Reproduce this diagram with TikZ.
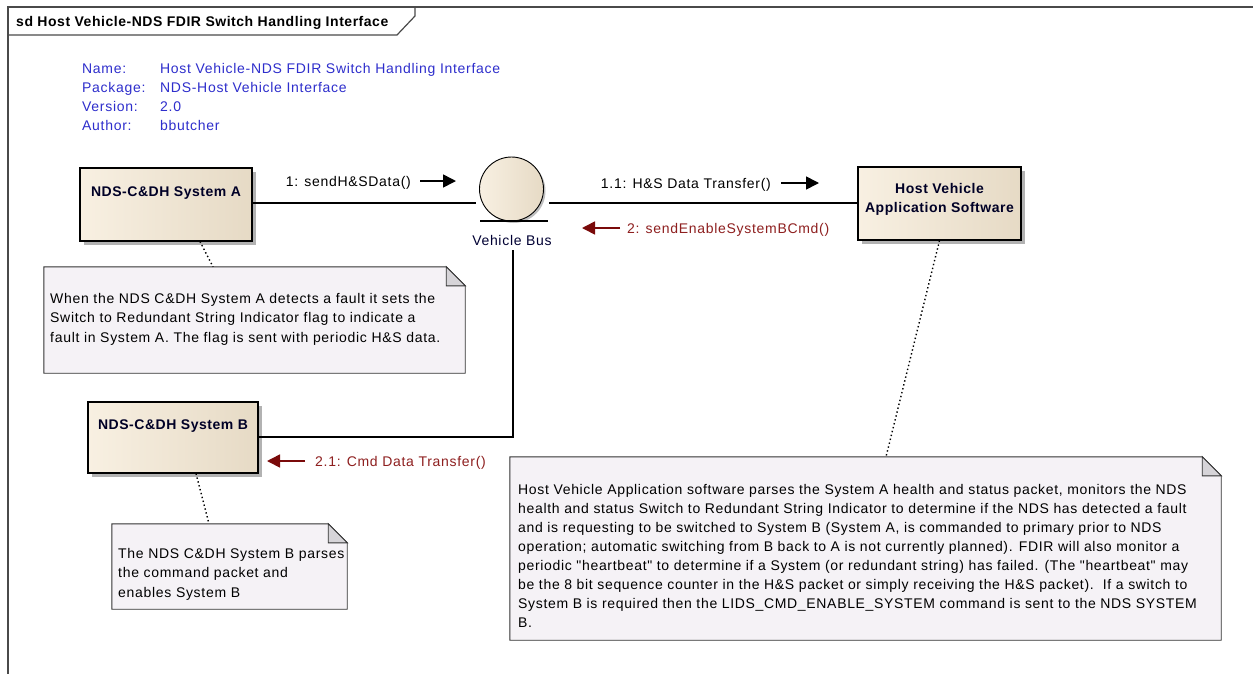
\documentclass[tikz,border=0pt]{standalone}
\usepackage{fontspec}
\setmainfont{Liberation Sans}
\newfontfamily\eafont[LetterSpace=5]{Liberation Sans}
\newfontfamily\eanote[LetterSpace=4.8]{Liberation Sans}
\newfontfamily\eabold[LetterSpace=3.8]{Liberation Sans}
\usetikzlibrary{shadows,arrows.meta}
\definecolor{framec}{HTML}{4A4A4A}
\definecolor{objl}{HTML}{F8F0E2}
\definecolor{objr}{HTML}{E6DAC5}
\definecolor{notefill}{HTML}{F5F2F6}
\definecolor{foldfill}{HTML}{D6D4D8}
\definecolor{metablue}{HTML}{2E2ECC}
\definecolor{msgred}{HTML}{8E1F1F}
\definecolor{arrred}{HTML}{7A0A0A}
\tikzset{
  objbox/.style={rectangle, draw=black, line width=1.1pt, left color=objl, right color=objr,
    inner sep=0, general shadow={fill=black!30, shadow xshift=4pt, shadow yshift=-4pt}},
  objtxt/.style={font=\eabold\fontsize{14}{19}\selectfont\bfseries, text=black!85!blue, align=center, inner sep=0, anchor=base},
  notebox/.style={rectangle, draw=none, inner sep=0},
  noteline/.style={draw=black!80, line width=0.9pt, fill=notefill},
  notetxt/.style={font=\eafont\fontsize{14}{19.5}\selectfont, align=left, anchor=north west, inner sep=0},
  meta/.style={font=\eafont\fontsize{14}{19}\selectfont, text=metablue, anchor=base west, inner sep=0},
  msg/.style={font=\eafont\fontsize{14}{16}\selectfont, inner sep=0},
  conn/.style={draw=black, line width=1.1pt},
  anchorline/.style={draw=black, line width=1.4pt, dash pattern=on 1.4pt off 2.6pt},
  marrow/.style={line width=1.6pt, -{Triangle[length=13pt,width=13pt]}},
}
\begin{document}
\begin{tikzpicture}[x=1pt,y=-1pt]
\useasboundingbox (0,0) rectangle (1253,673);
\fill[white] (0,0) rectangle (1253,673);
% frame
\draw[framec, line width=1.8pt] (8,690) -- (8,7) -- (1270,7);
\draw[framec, line width=1.2pt] (8,35) -- (397,35) -- (415,16) -- (415,7);
\node[font=\eabold\fontsize{14}{16}\selectfont\bfseries, anchor=base west, inner sep=0] (title) at (16,26) {sd Host Vehicle-NDS FDIR Switch Handling Interface};
% metadata
\node[meta] (mk1) at (82,73) {Name:};
\node[meta] (mk2) at (82,92) {Package:};
\node[meta] (mk3) at (82,111) {Version:};
\node[meta] (mk4) at (82,130) {Author:};
\node[meta] (mv1) at (160,73) {Host Vehicle-NDS FDIR Switch Handling Interface};
\node[meta] (mv2) at (160,92) {NDS-Host Vehicle Interface};
\node[meta] (mv3) at (160,111) {2.0};
\node[meta] (mv4) at (160,130) {bbutcher};
% objects
\node[objbox, minimum width=172pt, minimum height=73pt] (sysA) at (166,204.5) {};
\node[objtxt] (sysAt) at (166,196) {NDS-C\&DH System A};
\node[objbox, minimum width=163pt, minimum height=73pt] (host) at (939.5,203.5) {};
\node[objtxt, anchor=north] (hostt) at (939.5,183) {Host Vehicle\\Application Software};
\node[objbox, minimum width=170pt, minimum height=71pt] (sysB) at (173,437.5) {};
\node[objtxt] (sysBt) at (173,429) {NDS-C\&DH System B};
% vehicle bus
\node[circle, draw=black, line width=0.9pt, minimum size=64pt, inner sep=0, left color=objl, right color=objr,
  general shadow={fill=black!25, shadow xshift=2pt, shadow yshift=-2pt}] (bus) at (511.5,189) {};
\draw[line width=1.1pt] (480,221) -- (548,221);
\node[font=\eafont\fontsize{14}{16}\selectfont, text=black!80!blue, inner sep=0, anchor=base] (busl) at (512,245) {Vehicle Bus};
\coordinate (busL) at (476,203);
\coordinate (busR) at (549,203);
\coordinate (busD) at (513,250);
\coordinate (busC) at (513,437);
% connectors
\draw[conn] (sysA.east |- busL) -- (busL);
\draw[conn] (busR) -- (host.west |- busR);
\draw[conn] (busD) -- (busC) -- (sysB.east |- busC);
% notes
\node[notebox, minimum width=421pt, minimum height=106pt] (noteA) at (254.5,320) {};
\node[notebox, minimum width=235pt, minimum height=85pt] (noteB) at (229.5,566.5) {};
\node[notebox, minimum width=711pt, minimum height=183pt] (noteC) at (865.5,548.5) {};
\foreach \n/\f in {noteA/19, noteB/19, noteC/19}{
  \draw[noteline] (\n.north west) -- ([xshift=-\f pt]\n.north east) -- ([yshift=-\f pt]\n.north east) -- (\n.south east) -- (\n.south west) -- cycle;
  \draw[draw=black!80, line width=0.9pt, fill=foldfill] ([xshift=-\f pt]\n.north east) -- ([xshift=-\f pt, yshift=-\f pt]\n.north east) -- ([yshift=-\f pt]\n.north east) -- cycle;
}
\node[notetxt] (noteAt) at (50,293) {When the NDS C\&DH System A detects a fault it sets the\\Switch to Redundant String Indicator flag to indicate a\\fault in System A. The flag is sent with periodic H\&S data.};
\node[notetxt] (noteBt) at (118,548) {The NDS C\&DH System B parses\\the command packet and\\enables System B};
\node[notetxt, font=\eanote\fontsize{14}{19}\selectfont] (noteCt) at (518,484) {Host Vehicle Application software parses the System A health and status packet, monitors the NDS\\health and status Switch to Redundant String Indicator to determine if the NDS has detected a fault\\and is requesting to be switched to System B (System A, is commanded to primary prior to NDS\\operation; automatic switching from B back to A is not currently planned). FDIR will also monitor a\\periodic "heartbeat" to determine if a System (or redundant string) has failed. (The "heartbeat" may\\be the 8 bit sequence counter in the H\&S packet or simply receiving the H\&S packet).\ \ If a switch to\\System B is required then the LIDS\_CMD\_ENABLE\_SYSTEM command is sent to the NDS SYSTEM\\B.};
% note anchors
\draw[anchorline] ([xshift=34pt]sysA.south) -- ([xshift=-41.5pt]noteA.north);
\draw[anchorline] ([xshift=23pt]sysB.south) -- ([xshift=-20.5pt]noteB.north);
\draw[anchorline] (host.south) -- ([xshift=20.5pt]noteC.north);
% messages
\node[msg, anchor=base east] (m1) at (411,186) {1: sendH\&SData()};
\coordinate (m1a) at (420,181);
\coordinate (m1b) at (456,181);
\draw[marrow] (m1a) -- (m1b);
\node[msg, anchor=base east] (m11) at (771,188) {1.1: H\&S Data Transfer()};
\coordinate (m11a) at (781,183);
\coordinate (m11b) at (819,183);
\draw[marrow] (m11a) -- (m11b);
\node[msg, anchor=base west, text=msgred] (m2) at (627,233) {2: sendEnableSystemBCmd()};
\coordinate (m2a) at (620,228);
\coordinate (m2b) at (582,228);
\draw[marrow, arrred] (m2a) -- (m2b);
\node[msg, anchor=base west, text=msgred] (m21) at (315,466) {2.1: Cmd Data Transfer()};
\coordinate (m21a) at (305,461);
\coordinate (m21b) at (267,461);
\draw[marrow, arrred] (m21a) -- (m21b);
\end{tikzpicture}
\end{document}
